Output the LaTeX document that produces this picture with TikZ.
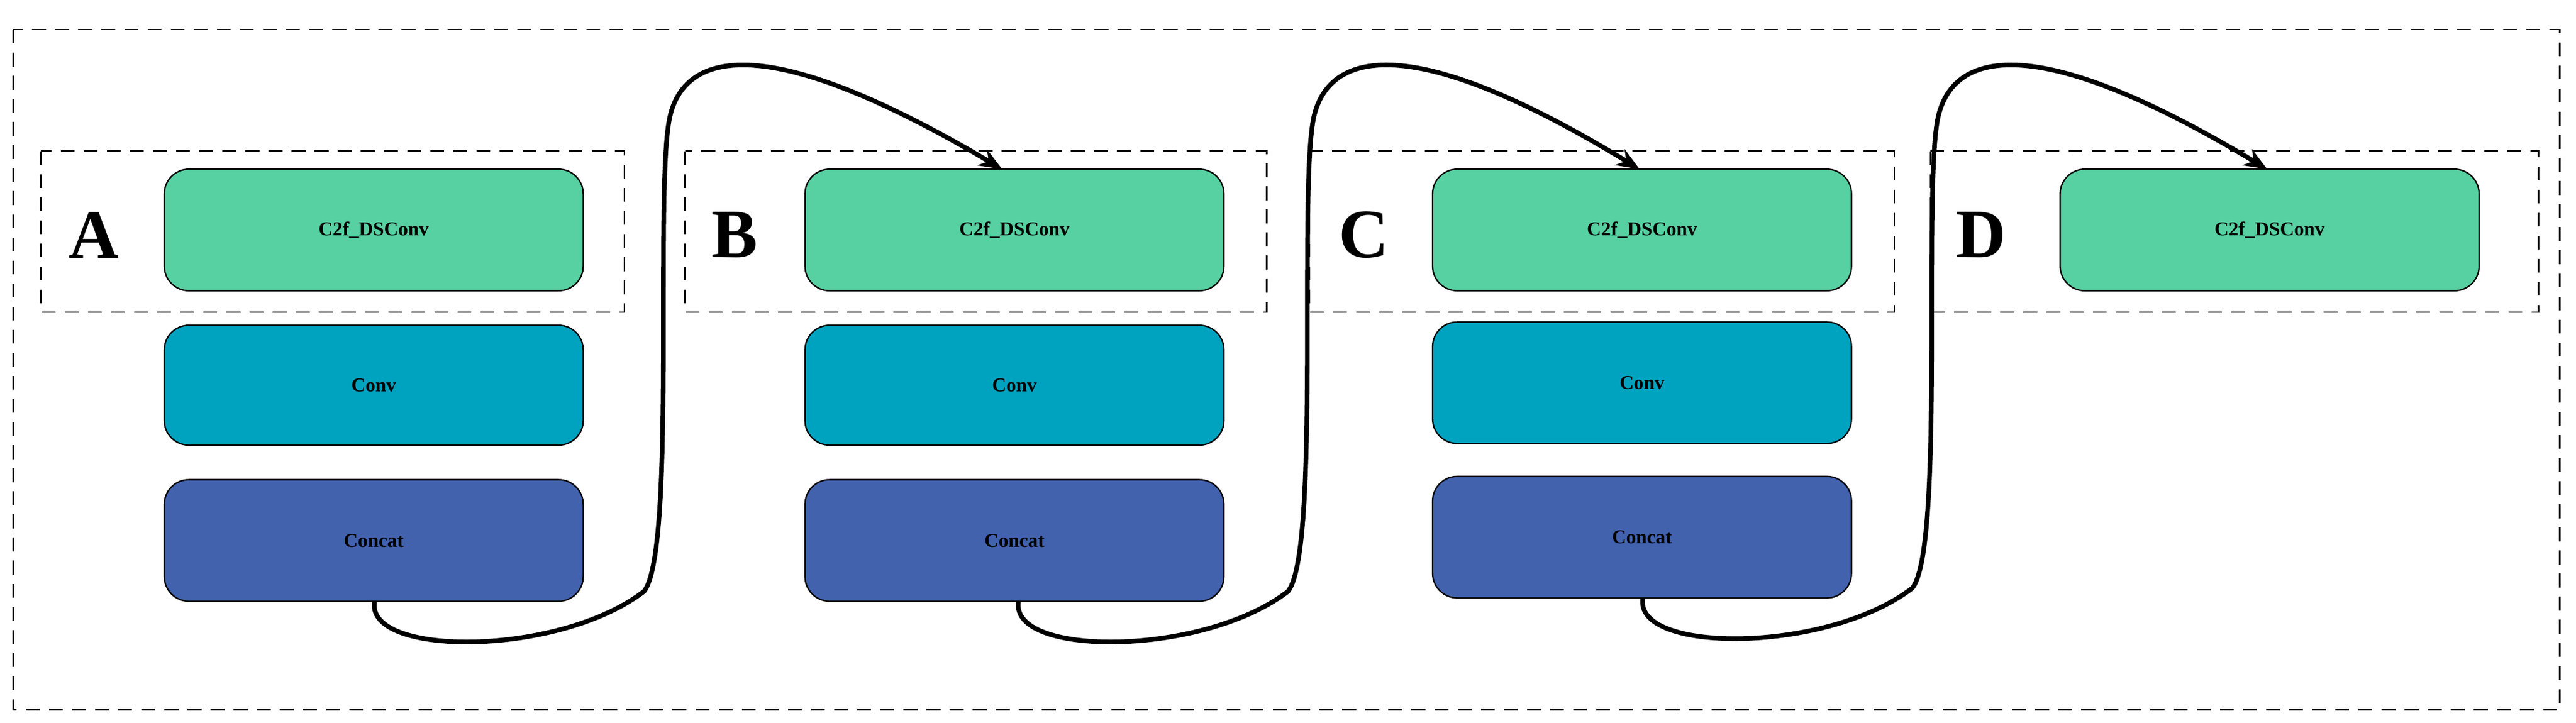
\documentclass[tikz,border=0pt]{standalone}
\usepackage{fontspec}
\setmainfont{Liberation Serif}
\usetikzlibrary{arrows.meta}
\definecolor{cgreen}{HTML}{57D0A2}
\definecolor{cteal}{HTML}{00A3BF}
\definecolor{cblue}{HTML}{4262AE}
\begin{document}
\begin{tikzpicture}[x=0.05cm,y=-0.05cm,
  blk/.style={draw=black,line width=1.2pt,rounded corners=0.75cm,font=\bfseries\fontsize{17}{20}\selectfont},
  grp/.style={draw=black,line width=1.4pt,dash pattern=on 12pt off 8pt},
  lbl/.style={font=\bfseries\fontsize{60}{60}\selectfont,inner sep=0pt},
  cur/.style={line width=4pt,-{Stealth[length=20pt,width=16pt]}}]
\useasboundingbox (0,0) rectangle (1568,440);
\draw[grp] (8,18) rectangle (1558,432);
% groups
\draw[grp] (25,92) rectangle (380,190);
\draw[grp] (417,92) rectangle (771,190);
\draw[grp] (797,92) rectangle (1153,190);
\draw[grp] (1175,92) rectangle (1545,190);
\node[lbl] (LA) at (57,143) {A};
\node[lbl] (LB) at (447,143) {B};
\node[lbl] (LC) at (830,143) {C};
\node[lbl] (LD) at (1206,143) {D};
% column A
\path[blk,fill=cgreen] (100,103) rectangle node (a1) {C2f\_DSConv} (355,177);
\path[blk,fill=cteal] (100,198) rectangle node (a2) {Conv} (355,271);
\path[blk,fill=cblue] (100,292) rectangle node (a3) {Concat} (355,366);
% column B
\path[blk,fill=cgreen] (490,103) rectangle node (b1) {C2f\_DSConv} (745,177);
\path[blk,fill=cteal] (490,198) rectangle node (b2) {Conv} (745,271);
\path[blk,fill=cblue] (490,292) rectangle node (b3) {Concat} (745,366);
% column C
\path[blk,fill=cgreen] (872,103) rectangle node (c1) {C2f\_DSConv} (1127,177);
\path[blk,fill=cteal] (872,196) rectangle node (c2) {Conv} (1127,270);
\path[blk,fill=cblue] (872,290) rectangle node (c3) {Concat} (1127,364);
% column D
\path[blk,fill=cgreen] (1254,103) rectangle node (d1) {C2f\_DSConv} (1509,177);
% coordinates
\coordinate (sa) at (228,366); \coordinate (ta) at (610,103);
\coordinate (sb) at (620,366); \coordinate (tb) at (998,103);
\coordinate (sc) at (1000,364); \coordinate (tc) at (1380,103);
\draw[cur] (sa) .. controls (222,400) and (340,400) .. (392,360)
  .. controls (412,335) and (398,110) .. (408,70)
  .. controls (418,30) and (470,20) .. (ta);
\draw[cur] (sb) .. controls (614,400) and (732,400) .. (784,360)
  .. controls (804,335) and (790,110) .. (800,70)
  .. controls (810,30) and (862,20) .. (tb);
\draw[cur] (sc) .. controls (994,398) and (1112,398) .. (1164,358)
  .. controls (1184,333) and (1170,110) .. (1180,70)
  .. controls (1190,30) and (1242,20) .. (tc);
\end{tikzpicture}
\end{document}
